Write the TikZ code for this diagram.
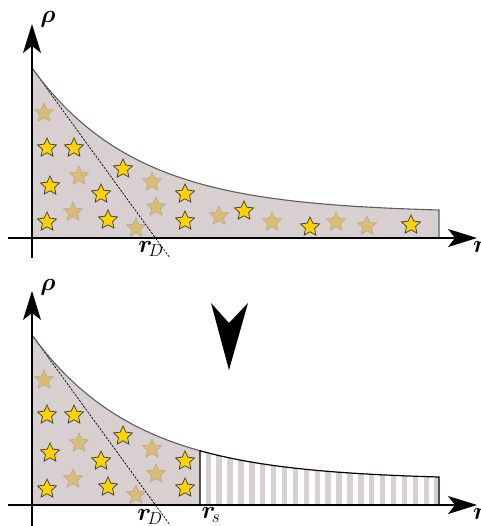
\documentclass[tikz,border=0pt]{standalone}
\usepackage{bm}
\usetikzlibrary{shapes.geometric,arrows.meta}
\definecolor{regfill}{HTML}{D8CFD0}
\definecolor{staryel}{HTML}{FFD200}
\definecolor{staredge}{HTML}{3A3A3A}
\definecolor{startan}{HTML}{D8BD78}
\definecolor{startanedge}{HTML}{BBA986}
\definecolor{curvegray}{HTML}{5E5E5E}
\begin{document}
\begin{tikzpicture}[x=1pt,y=-1pt,
  ystar/.style={star,star points=5,star point ratio=2.1,minimum size=20pt,inner sep=0pt,fill=staryel,draw=staredge,line width=0.7pt},
  tstar/.style={star,star points=5,star point ratio=2.1,minimum size=20pt,inner sep=0pt,fill=startan,draw=startanedge,line width=0.6pt},
  axis/.style={line width=1.5pt,-{Stealth[length=29pt,width=18pt,inset=7pt]}},
  tangent/.style={line width=0.7pt,dash pattern=on 2.2pt off 1.3pt},
  curveline/.style={curvegray,line width=1.1pt},
  lab/.style={inner sep=0pt,font=\fontsize{26}{30}\selectfont},
  rholab/.style={inner sep=0pt,font=\fontsize{25}{30}\selectfont}]
\useasboundingbox (0,0) rectangle (480,526);

% ================= TOP PANEL =================
\fill[regfill] (32,238) -- plot[domain=32:439,samples=80] (\x,{213-145*exp(-(\x-32)/105)}) -- (439,238) -- cycle;
% stars
\foreach \p [count=\i] in {(44,113),(79,176),(152,182),(73,212),(156,207),(136,228),(219,216),(272,222),(336,222),(367,226)}
  \node[tstar,name=ta\i] at \p {};
\foreach \p [count=\i] in {(47,148),(74,148),(123,169),(50,186),(101,194),(185,194),(47,222),(108,220),(185,221),(244,211),(310,227),(411,225)}
  \node[ystar,name=ya\i] at \p {};
% tangent
\coordinate (tA) at (32,68);
\coordinate (tB) at (170,258);
\draw[tangent] (tA) -- (tB);
% curve and right edge
\draw[curveline] plot[domain=32:439,samples=80] (\x,{213-145*exp(-(\x-32)/105)}) -- (439,238);
% axes
\coordinate (yA0) at (32,258);
\coordinate (yA1) at (32,24);
\coordinate (xA0) at (8,238);
\coordinate (xA1) at (477,238);
\draw[axis] (yA0) -- (yA1);
\draw[axis] (xA0) -- (xA1);
% labels
\node[rholab] (rhoA) at (48,19) {$\bm{\rho}$};
\node[lab] (rDA) at (151,249) {$\bm{r}_{\!D}$};
\node[lab,anchor=west] (rA) at (473,247) {$\bm{r}$};

% ================= ARROW =================
\fill (211,303) -- (229,323) -- (248,303) -- (229,370) -- cycle;

% ================= BOTTOM PANEL =================
\fill[regfill] (32,505) -- plot[domain=32:200,samples=50] (\x,{480-145*exp(-(\x-32)/105)}) -- (200,505) -- cycle;
\begin{scope}
  \clip (200,505) -- plot[domain=200:439,samples=60] (\x,{480-145*exp(-(\x-32)/105)}) -- (439,505) -- cycle;
  \foreach \i in {0,...,22}
    \fill[regfill] ({205.5+10.9*\i},400) rectangle ++(5.4,120);
\end{scope}
\foreach \p [count=\i] in {(44,380),(79,443),(152,449),(73,479),(156,474),(136,495)}
  \node[tstar,name=tb\i] at \p {};
\foreach \p [count=\i] in {(47,415),(74,415),(123,436),(50,453),(101,461),(185,461),(47,489),(108,487),(185,488)}
  \node[ystar,name=yb\i] at \p {};
\coordinate (tC) at (32,335);
\coordinate (tD) at (170,525);
\draw[tangent] (tC) -- (tD);
\draw[curveline] plot[domain=32:200,samples=50] (\x,{480-145*exp(-(\x-32)/105)});
\draw[line width=1.2pt] (200,505) -- plot[domain=200:439,samples=60] (\x,{480-145*exp(-(\x-32)/105)}) -- (439,505);
\coordinate (yB0) at (32,528);
\coordinate (yB1) at (32,291);
\coordinate (xB0) at (8,505);
\coordinate (xB1) at (477,505);
\draw[axis] (yB0) -- (yB1);
\draw[axis] (xB0) -- (xB1);
\node[rholab] (rhoB) at (48,287) {$\bm{\rho}$};
\node[lab] (rDB) at (150,517) {$\bm{r}_{\!D}$};
\node[lab] (rsB) at (211,515) {$\bm{r}_{\!s}$};
\node[lab,anchor=west] (rB) at (473,514) {$\bm{r}$};
\end{tikzpicture}
\end{document}
